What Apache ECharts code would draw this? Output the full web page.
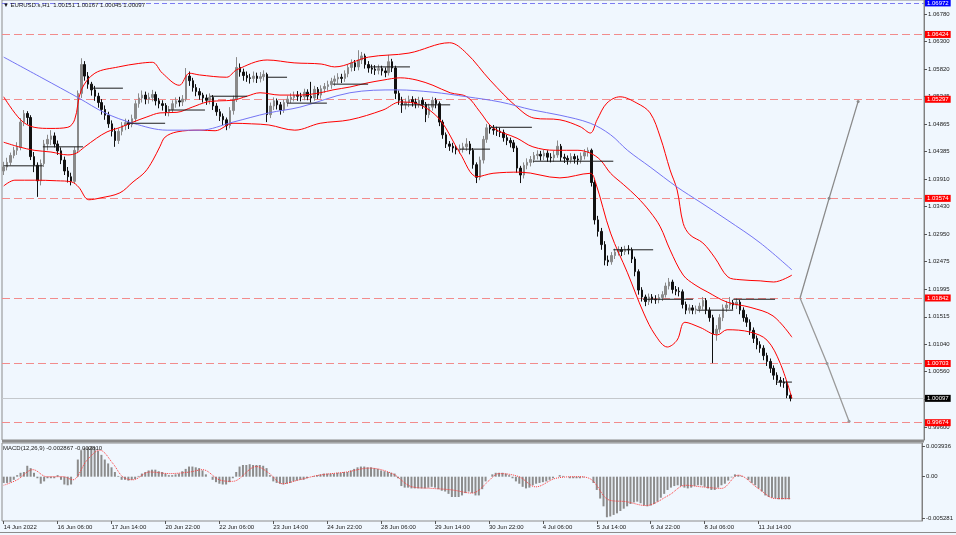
<!DOCTYPE html>
<html>
<head>
<meta charset="utf-8">
<script src="https://cdn.jsdelivr.net/npm/echarts@6.0.0/dist/echarts.min.js"></script>
<style>
html,body{margin:0;padding:0;background:#F0F7FE;}
#chart{width:956px;height:535px;}
</style>
</head>
<body>
<div id="chart"></div>
<script>
// ---------- DATA ----------
const symbolName = 'EURUSD.s,H1';
const xTickLabels = ['14 Jun 2022','16 Jun 06:00','17 Jun 14:00','20 Jun 22:00','22 Jun 06:00','23 Jun 14:00','24 Jun 22:00','28 Jun 06:00','29 Jun 14:00','30 Jun 22:00','4 Jul 06:00','5 Jul 14:00','6 Jul 22:00','8 Jul 06:00','11 Jul 14:00'];
const priceTicks = [1.06780,1.06300,1.05820,1.05345,1.04865,1.04385,1.03910,1.03430,1.02950,1.02475,1.01995,1.01515,1.01040,1.00560,1.00080,0.99600];
const macdTicks = [0.003936, 0, -0.005281];
const macdTickLabels = ['0.003936','0.00','-0.005281'];
const levelLines = [1.06424,1.05297,1.03574,1.01842,1.00703,0.99674];
const topLevel = 1.06972;
const macdLast = -0.002867;
const signalLast = -0.002810;

// [open, close, low, high]
const candles = [
[1.0405,1.0412,1.0398,1.0421],[1.0412,1.0420,1.0406,1.0428],[1.0420,1.0432,1.0415,1.0437],[1.0432,1.0441,1.0427,1.0447],[1.0441,1.0446,1.0433,1.0455],
[1.0446,1.0490,1.0441,1.0497],[1.0490,1.0505,1.0483,1.0511],[1.0505,1.0498,1.0486,1.0509],[1.0498,1.0430,1.0424,1.0502],[1.0430,1.0415,1.0403,1.0438],
[1.0415,1.0388,1.0360,1.0420],[1.0388,1.0418,1.0380,1.0425],[1.0418,1.0452,1.0412,1.0459],[1.0452,1.0460,1.0441,1.0468],[1.0460,1.0466,1.0450,1.0476],
[1.0466,1.0452,1.0446,1.0472],[1.0452,1.0440,1.0433,1.0458],[1.0440,1.0424,1.0417,1.0446],[1.0424,1.0405,1.0398,1.0430],[1.0405,1.0395,1.0385,1.0412],
[1.0395,1.0387,1.0380,1.0402],[1.0387,1.0441,1.0383,1.0447],[1.0441,1.0540,1.0436,1.0545],[1.0540,1.0590,1.0532,1.0601],[1.0590,1.0570,1.0562,1.0596],
[1.0570,1.0556,1.0548,1.0577],[1.0556,1.0546,1.0536,1.0560],[1.0546,1.0535,1.0527,1.0553],[1.0535,1.0524,1.0515,1.0541],[1.0524,1.0512,1.0503,1.0530],
[1.0512,1.0502,1.0494,1.0519],[1.0502,1.0487,1.0480,1.0508],[1.0487,1.0474,1.0465,1.0493],[1.0474,1.0458,1.0447,1.0480],[1.0458,1.0474,1.0452,1.0479],
[1.0474,1.0484,1.0467,1.0490],[1.0484,1.0489,1.0476,1.0496],[1.0489,1.0486,1.0478,1.0494],[1.0486,1.0496,1.0481,1.0503],[1.0496,1.0522,1.0490,1.0528],
[1.0522,1.0532,1.0515,1.0540],[1.0532,1.0537,1.0524,1.0545],[1.0537,1.0530,1.0521,1.0543],[1.0530,1.0533,1.0522,1.0541],[1.0533,1.0538,1.0526,1.0546],
[1.0538,1.0527,1.0519,1.0543],[1.0527,1.0522,1.0514,1.0532],[1.0522,1.0519,1.0510,1.0528],[1.0519,1.0507,1.0501,1.0523],[1.0507,1.0512,1.0500,1.0518],
[1.0512,1.0522,1.0506,1.0528],[1.0522,1.0527,1.0515,1.0533],[1.0527,1.0525,1.0517,1.0534],[1.0525,1.0530,1.0518,1.0537],[1.0530,1.0570,1.0526,1.0584],
[1.0570,1.0562,1.0553,1.0578],[1.0562,1.0550,1.0543,1.0567],[1.0550,1.0543,1.0535,1.0556],[1.0543,1.0537,1.0529,1.0549],[1.0537,1.0532,1.0524,1.0541],
[1.0532,1.0528,1.0520,1.0538],[1.0528,1.0533,1.0521,1.0540],[1.0533,1.0518,1.0511,1.0537],[1.0518,1.0508,1.0501,1.0523],[1.0508,1.0500,1.0492,1.0513],
[1.0500,1.0494,1.0485,1.0505],[1.0494,1.0484,1.0476,1.0498],[1.0484,1.0510,1.0479,1.0516],[1.0510,1.0530,1.0503,1.0536],[1.0530,1.0585,1.0525,1.0603],
[1.0585,1.0577,1.0569,1.0592],[1.0577,1.0571,1.0562,1.0583],[1.0571,1.0567,1.0560,1.0578],[1.0567,1.0566,1.0557,1.0574],[1.0566,1.0570,1.0559,1.0578],
[1.0570,1.0566,1.0558,1.0576],[1.0566,1.0569,1.0559,1.0577],[1.0569,1.0573,1.0562,1.0580],[1.0573,1.0503,1.0490,1.0576],[1.0503,1.0518,1.0497,1.0524],
[1.0518,1.0527,1.0511,1.0533],[1.0527,1.0520,1.0512,1.0531],[1.0520,1.0511,1.0503,1.0525],[1.0511,1.0524,1.0506,1.0529],[1.0524,1.0530,1.0517,1.0536],
[1.0530,1.0533,1.0523,1.0540],[1.0533,1.0537,1.0526,1.0543],[1.0537,1.0535,1.0527,1.0544],[1.0535,1.0534,1.0526,1.0541],[1.0534,1.0542,1.0528,1.0548],
[1.0542,1.0535,1.0528,1.0547],[1.0535,1.0532,1.0524,1.0560],[1.0532,1.0547,1.0527,1.0553],[1.0547,1.0537,1.0530,1.0551],[1.0537,1.0548,1.0531,1.0554],
[1.0548,1.0552,1.0541,1.0558],[1.0552,1.0555,1.0545,1.0562],[1.0555,1.0561,1.0548,1.0567],[1.0561,1.0565,1.0553,1.0571],[1.0565,1.0568,1.0557,1.0575],
[1.0568,1.0566,1.0558,1.0574],[1.0566,1.0574,1.0560,1.0580],[1.0574,1.0585,1.0568,1.0591],[1.0585,1.0593,1.0578,1.0599],[1.0593,1.0586,1.0579,1.0598],
[1.0586,1.0598,1.0580,1.0615],[1.0598,1.0605,1.0591,1.0612],[1.0605,1.0590,1.0583,1.0609],[1.0590,1.0584,1.0576,1.0596],[1.0584,1.0582,1.0574,1.0590],
[1.0582,1.0580,1.0572,1.0589],[1.0580,1.0583,1.0573,1.0590],[1.0583,1.0579,1.0571,1.0588],[1.0579,1.0576,1.0568,1.0585],[1.0576,1.0595,1.0571,1.0607],
[1.0595,1.0584,1.0577,1.0600],[1.0584,1.0540,1.0530,1.0588],[1.0540,1.0528,1.0520,1.0545],[1.0528,1.0520,1.0506,1.0534],[1.0520,1.0524,1.0512,1.0531],
[1.0524,1.0529,1.0516,1.0536],[1.0529,1.0525,1.0517,1.0535],[1.0525,1.0522,1.0514,1.0531],[1.0522,1.0528,1.0515,1.0534],[1.0528,1.0521,1.0513,1.0533],
[1.0521,1.0503,1.0490,1.0525],[1.0503,1.0516,1.0497,1.0522],[1.0516,1.0528,1.0510,1.0534],[1.0528,1.0522,1.0514,1.0532],[1.0522,1.0490,1.0483,1.0526],
[1.0490,1.0468,1.0461,1.0494],[1.0468,1.0452,1.0445,1.0472],[1.0452,1.0448,1.0440,1.0457],[1.0448,1.0445,1.0437,1.0454],[1.0445,1.0442,1.0434,1.0450],
[1.0442,1.0443,1.0435,1.0451],[1.0443,1.0447,1.0437,1.0454],[1.0447,1.0452,1.0440,1.0462],[1.0452,1.0441,1.0434,1.0457],[1.0441,1.0416,1.0409,1.0445],
[1.0416,1.0394,1.0384,1.0420],[1.0394,1.0424,1.0389,1.0430],[1.0424,1.0460,1.0418,1.0466],[1.0460,1.0480,1.0454,1.0487],[1.0480,1.0478,1.0470,1.0486],
[1.0478,1.0476,1.0468,1.0485],[1.0476,1.0474,1.0466,1.0482],[1.0474,1.0472,1.0464,1.0480],[1.0472,1.0463,1.0456,1.0477],[1.0463,1.0458,1.0450,1.0468],
[1.0458,1.0454,1.0446,1.0463],[1.0454,1.0445,1.0438,1.0459],[1.0445,1.0410,1.0402,1.0449],[1.0410,1.0398,1.0384,1.0414],[1.0398,1.0415,1.0392,1.0420],
[1.0415,1.0420,1.0408,1.0427],[1.0420,1.0425,1.0413,1.0431],[1.0425,1.0432,1.0419,1.0438],[1.0432,1.0434,1.0425,1.0441],[1.0434,1.0431,1.0423,1.0440],
[1.0431,1.0436,1.0424,1.0442],[1.0436,1.0429,1.0421,1.0441],[1.0429,1.0428,1.0420,1.0436],[1.0428,1.0433,1.0421,1.0440],[1.0433,1.0448,1.0428,1.0458],
[1.0448,1.0429,1.0422,1.0452],[1.0429,1.0427,1.0419,1.0435],[1.0427,1.0424,1.0416,1.0432],[1.0424,1.0430,1.0418,1.0436],[1.0430,1.0426,1.0418,1.0435],
[1.0426,1.0424,1.0416,1.0432],[1.0424,1.0431,1.0418,1.0437],[1.0431,1.0437,1.0425,1.0443],[1.0437,1.0441,1.0430,1.0446],[1.0441,1.0385,1.0378,1.0444],
[1.0385,1.0320,1.0312,1.0390],[1.0320,1.0300,1.0291,1.0327],[1.0300,1.0277,1.0268,1.0306],[1.0277,1.0250,1.0241,1.0283],[1.0250,1.0247,1.0240,1.0258],
[1.0247,1.0258,1.0242,1.0264],[1.0258,1.0264,1.0252,1.0270],[1.0264,1.0268,1.0258,1.0274],[1.0268,1.0265,1.0257,1.0273],[1.0265,1.0269,1.0259,1.0275],
[1.0269,1.0268,1.0260,1.0276],[1.0268,1.0252,1.0245,1.0272],[1.0252,1.0230,1.0222,1.0256],[1.0230,1.0198,1.0190,1.0234],[1.0198,1.0186,1.0178,1.0203],
[1.0186,1.0178,1.0170,1.0190],[1.0178,1.0186,1.0172,1.0192],[1.0186,1.0182,1.0175,1.0191],[1.0182,1.0181,1.0174,1.0189],[1.0181,1.0185,1.0175,1.0191],
[1.0185,1.0190,1.0179,1.0196],[1.0190,1.0205,1.0185,1.0211],[1.0205,1.0212,1.0199,1.0219],[1.0212,1.0199,1.0192,1.0216],[1.0199,1.0196,1.0189,1.0205],
[1.0196,1.0195,1.0187,1.0203],[1.0195,1.0173,1.0166,1.0199],[1.0173,1.0163,1.0156,1.0178],[1.0163,1.0167,1.0157,1.0173],[1.0167,1.0163,1.0156,1.0172],
[1.0163,1.0165,1.0156,1.0171],[1.0165,1.0170,1.0159,1.0176],[1.0170,1.0180,1.0164,1.0186],[1.0180,1.0163,1.0156,1.0184],[1.0163,1.0150,1.0143,1.0168],
[1.0150,1.0122,1.0071,1.0155],[1.0122,1.0130,1.0110,1.0137],[1.0130,1.0150,1.0124,1.0156],[1.0150,1.0167,1.0144,1.0173],[1.0167,1.0172,1.0160,1.0179],
[1.0172,1.0176,1.0165,1.0186],[1.0176,1.0172,1.0164,1.0181],[1.0172,1.0177,1.0165,1.0184],[1.0177,1.0163,1.0156,1.0181],[1.0163,1.0150,1.0143,1.0168],
[1.0150,1.0142,1.0134,1.0156],[1.0142,1.0128,1.0120,1.0147],[1.0128,1.0114,1.0106,1.0133],[1.0114,1.0103,1.0095,1.0119],[1.0103,1.0097,1.0089,1.0109],
[1.0097,1.0084,1.0076,1.0102],[1.0084,1.0074,1.0066,1.0089],[1.0074,1.0062,1.0054,1.0079],[1.0062,1.0050,1.0042,1.0067],[1.0050,1.0041,1.0033,1.0055],
[1.0041,1.0038,1.0030,1.0047],[1.0038,1.0036,1.0028,1.0045],[1.0036,1.0015,1.0010,1.0040],[1.00151,1.00097,1.00045,1.00167]
];

// Bollinger bands and moving average, sampled [bar index, price]
const bbUpper = [[0,1.0534],[5,1.0494],[9,1.0481],[14,1.0479],[19,1.0481],[21,1.0494],[23,1.0546],[27,1.0575],[34,1.0586],[40,1.0592],[44,1.0594],[47,1.0575],[52,1.0554],[55,1.0575],[58,1.0572],[66,1.0568],[69,1.0581],[78,1.0598],[86,1.0593],[94,1.0591],[98,1.0586],[108,1.0603],[120,1.0610],[132,1.0628],[137,1.0610],[144,1.0563],[152,1.0516],[157,1.0497],[164.7,1.0494],[170.7,1.0482],[173.7,1.0471],[175.7,1.0494],[178.6,1.0523],[182.5,1.0534],[187.5,1.0523],[191.4,1.0506],[194.4,1.0464],[197.3,1.0407],[199.4,1.0372],[201.2,1.0314],[203.2,1.0294],[207,1.0280],[210.6,1.0254],[214.4,1.0221],[218,1.0216],[224,1.0214],[228,1.0212],[233.4,1.0224]];
const bbMiddle = [[0,1.0455],[4.5,1.0447],[9,1.0441],[14,1.0438],[19,1.0433],[21.5,1.0436],[24,1.0447],[27.5,1.0462],[30.6,1.0473],[34.6,1.0481],[38.3,1.0490],[42.4,1.0499],[46.3,1.0506],[51.3,1.0507],[55.8,1.0516],[60.2,1.0525],[64,1.0527],[67.9,1.0528],[72,1.0535],[75.9,1.0541],[81.8,1.0537],[87.7,1.0537],[93.7,1.0541],[97.5,1.0546],[102.5,1.0551],[107.6,1.0558],[112.3,1.0563],[117.4,1.0567],[122.4,1.0563],[127.1,1.0554],[132.2,1.0541],[137.2,1.0534],[141,1.0508],[144.9,1.0480],[152,1.0462],[156.7,1.0447],[163.3,1.0441],[170,1.0441],[173.7,1.0436],[176.7,1.0424],[179.7,1.0401],[183.6,1.0381],[187.5,1.0360],[191.4,1.0334],[194.4,1.0308],[197.3,1.0268],[201.2,1.0224],[204.7,1.0207],[208.3,1.0195],[214.2,1.0177],[221,1.0168],[227.8,1.0153],[233.4,1.0116]];
const bbLower = [[0,1.0379],[3.3,1.0389],[9.2,1.0389],[15.7,1.0388],[20.1,1.0386],[22.2,1.0377],[25.2,1.0355],[28.5,1.0358],[34.4,1.0367],[38.3,1.0386],[41.8,1.0403],[44.2,1.0424],[46.3,1.0448],[47.8,1.0464],[51.3,1.0473],[58.1,1.0476],[62.6,1.0475],[67.9,1.0488],[73.4,1.0487],[78.5,1.0485],[86.2,1.0476],[93.7,1.0488],[102.5,1.0494],[112.3,1.0511],[117.4,1.0525],[123.3,1.0520],[129.2,1.0494],[135.1,1.0436],[140.2,1.0395],[144.9,1.0401],[152.9,1.0403],[164.7,1.0393],[173.7,1.0401],[175.2,1.0386],[179.7,1.0297],[184.7,1.0228],[189.5,1.0158],[192.9,1.0120],[196.5,1.0099],[199.4,1.0111],[201.7,1.0142],[206.2,1.0133],[211.3,1.0120],[214.2,1.0129],[221,1.0125],[226,1.0111],[229.9,1.0071],[233.4,1.0010]];
const maLine = [[0,1.0603],[11.3,1.0567],[22.2,1.0532],[30,1.0506],[38.3,1.0488],[48.4,1.0476],[58.1,1.0476],[67.9,1.0490],[78.5,1.0506],[87.7,1.0516],[102.5,1.0541],[116.5,1.0546],[127.1,1.0542],[137.2,1.0534],[147,1.0525],[156.7,1.0511],[164.7,1.0502],[173.7,1.0488],[179.7,1.0468],[184.7,1.0441],[191.4,1.0412],[199.4,1.0377],[206.2,1.0351],[214.2,1.0320],[224,1.0280],[233.4,1.0233]];

// short black horizontal segments: [from index, to index, price]
const hSegments = [[0,11.6,1.0414],[11.6,23.5,1.0447],[25.6,35.3,1.0549],[36.8,47.8,1.0488],[48.7,59.6,1.0511],[61.1,72.1,1.0535],[78,83.9,1.0568],[83.9,95.7,1.0523],[97.5,107.9,1.0556],[108.5,120.3,1.0586],[117.4,132.2,1.0520],[135.1,144,1.0443],[144,156.4,1.0481],[156.7,180.5,1.0422],[180.5,192.3,1.0268],[189.3,204.1,1.0182],[205.3,216,1.0163],[216,228.4,1.0182],[229,233.4,1.0038]];

// projection arrows: [index, price]
const arrowUp = [[235.8,1.01842],[244.4,1.03574],[253.0,1.0526]];
const arrowDown = [[235.8,1.01842],[243.8,1.00703],[250.3,0.9970]];

// MACD histogram per bar and signal samples
const macdHist = [
-0.0008,-0.0008,-0.0007,-0.0004,0.0002,0.0005,0.0006,0.0014,0.0011,0.0005,
-0.0002,-0.0009,-0.0006,-0.0002,-0.0002,-0.0002,0.0002,-0.0004,-0.0010,-0.0011,
-0.0010,0.0000,0.0022,0.0034,0.0037,0.0038,0.0039,0.0038,0.0033,0.0028,
0.0022,0.0017,0.0012,0.0006,0.0001,-0.0004,-0.0004,-0.0005,-0.0004,-0.0003,
0.0001,0.0004,0.0006,0.0008,0.0009,0.0009,0.0007,0.0006,0.0004,0.0002,
0.0002,0.0003,0.0004,0.0007,0.0010,0.0013,0.0013,0.0012,0.0011,0.0008,
0.0003,0.0000,-0.0004,-0.0007,-0.0009,-0.0010,-0.0010,-0.0007,-0.0002,0.0006,
0.0013,0.0015,0.0015,0.0016,0.0015,0.0015,0.0015,0.0014,0.0011,0.0002,
-0.0006,-0.0008,-0.0009,-0.0010,-0.0009,-0.0008,-0.0006,-0.0005,-0.0004,-0.0004,
-0.0002,0.0000,0.0001,0.0002,0.0003,0.0004,0.0004,0.0004,0.0004,0.0005,
0.0005,0.0006,0.0006,0.0008,0.0010,0.0012,0.0013,0.0013,0.0012,0.0012,
0.0011,0.0010,0.0008,0.0007,0.0006,0.0005,0.0004,-0.0002,-0.0012,-0.0014,
-0.0014,-0.0015,-0.0015,-0.0015,-0.0015,-0.0015,-0.0014,-0.0013,-0.0014,-0.0016,
-0.0018,-0.0019,-0.0022,-0.0026,-0.0026,-0.0026,-0.0024,-0.0021,-0.0019,-0.0021,
-0.0024,-0.0024,-0.0016,-0.0006,0.0000,0.0003,0.0005,0.0005,0.0005,0.0004,
0.0002,-0.0002,-0.0006,-0.0009,-0.0013,-0.0015,-0.0014,-0.0011,-0.0009,-0.0008,
-0.0007,-0.0006,-0.0004,-0.0002,0.0000,0.0002,0.0001,0.0000,-0.0002,-0.0002,
-0.0002,-0.0002,-0.0001,0.0000,0.0000,-0.0008,-0.0017,-0.0028,-0.0038,-0.0052,
-0.0051,-0.0049,-0.0047,-0.0044,-0.0041,-0.0038,-0.0035,-0.0033,-0.0032,-0.0034,
-0.0037,-0.0038,-0.0037,-0.0035,-0.0032,-0.0027,-0.0022,-0.0017,-0.0014,-0.0012,
-0.0011,-0.0012,-0.0014,-0.0015,-0.0014,-0.0012,-0.0011,-0.0011,-0.0013,-0.0015,
-0.0017,-0.0017,-0.0014,-0.0011,-0.0009,-0.0005,-0.0001,0.0003,0.0002,0.0001,
0.0000,-0.0004,-0.0008,-0.0011,-0.0015,-0.0019,-0.0024,-0.0026,-0.0027,-0.0028,
-0.0029,-0.0029,-0.0029,-0.0029
];
const macdSignal = [[0,-0.0011],[4,-0.0004],[8.7,0.0009],[12.8,0],[17.6,0],[20.5,-0.0004],[24.7,0.0021],[28.5,0.0034],[32.4,0.0017],[35.3,0],[38.3,-0.0004],[43.3,0.0006],[49.2,0.0004],[55.2,0.0006],[59,0.0009],[64,-0.0004],[67.9,-0.0006],[75,0.0013],[78.9,0.0004],[82.7,-0.0009],[87.7,-0.0004],[93.7,0.0002],[101.7,0.0006],[108.5,0.0011],[115.3,0.0004],[121.2,-0.0013],[127.1,-0.0015],[133.1,-0.0017],[139,-0.0021],[141.1,-0.0017],[144,-0.0005],[147,0.0004],[152.9,0],[157.9,-0.0013],[163.9,-0.0002],[170.7,0],[174.5,-0.0004],[179.7,-0.0030],[184.7,-0.0032],[190.5,-0.0037],[197.3,-0.0024],[202.3,-0.0011],[207,-0.0013],[213,-0.0015],[218,0.0002],[223.9,-0.0015],[229,-0.0028],[233.4,-0.0028]];

// ---------- BUILD ----------
const N_CAT = 273;
const categories = [];
for (let i = 0; i < N_CAT; i++) {
  categories.push(i % 16 === 0 && xTickLabels[i / 16] ? xTickLabels[i / 16] : '');
}
const hasLabel = (i) => categories[i] !== '';
const last = candles[candles.length - 1];
const headerText = '\u25BC ' + symbolName + '  ' + [last[0], last[3], last[2], last[1]].map(v => v.toFixed(5)).join(' ');
const FONT = 'Liberation Sans, Arial, sans-serif';
const smallText = {fontSize: 6, fontFamily: FONT, color: '#1a1a1a'};

function boxLabel(bg) {
  return {show: true, position: 'end', distance: 1, formatter: p => Number(p.value).toFixed(5),
    backgroundColor: bg, color: '#fff', fontSize: 6, fontFamily: FONT, lineHeight: 7, padding: [0, 2]};
}
const markData = levelLines.map(v => ({yAxis: v, lineStyle: {color: '#F28C8C', type: [8, 4], width: 1.2}, label: boxLabel('#FF0000')}));
markData.push({yAxis: topLevel, lineStyle: {color: '#7C7CF2', type: [5, 3], width: 1.2}, label: boxLabel('#0000FF')});
markData.push({yAxis: last[1], lineStyle: {color: '#C4C8CC', type: 'solid', width: 1}, label: boxLabel('#000000')});

const series = [];
series.push({
  type: 'candlestick', xAxisIndex: 0, yAxisIndex: 0, data: candles, barWidth: 2, z: 3,
  itemStyle: {color: '#8a8a8a', color0: '#111111', borderColor: '#8a8a8a', borderColor0: '#111111', borderWidth: 1},
  markLine: {silent: true, symbol: ['none', 'none'], precision: 5, animation: false, data: markData, z: 1}
});
function lineS(data, color, w, extra) {
  return Object.assign({type: 'line', xAxisIndex: 1, yAxisIndex: 0, data: data, showSymbol: false, symbol: 'none',
    smooth: 0.35, lineStyle: {color: color, width: w}, silent: true, z: 4}, extra || {});
}
series.push(lineS(bbUpper, '#FF0000', 1));
series.push(lineS(bbMiddle, '#FF0000', 1));
series.push(lineS(bbLower, '#FF0000', 1));
series.push(lineS(maLine, '#7474F4', 1));
hSegments.forEach(s => {
  series.push(lineS([[s[0], s[2]], [s[1], s[2]]], '#1c1c1c', 1, {smooth: false, z: 5}));
});
function arrowSeries(pts, color) {
  return {type: 'line', xAxisIndex: 1, yAxisIndex: 0, silent: true, z: 5, smooth: false,
    lineStyle: {color: color, width: 1.3},
    itemStyle: {color: color},
    data: pts.map((p, i) => ({value: p, symbol: i === 0 ? 'none' : 'circle', symbolSize: i === 0 ? 0 : 3}))};
}
series.push(arrowSeries(arrowUp, '#8a8a8a'));
series.push(arrowSeries(arrowDown, '#9a9a9a'));

series.push({type: 'bar', xAxisIndex: 2, yAxisIndex: 1, data: macdHist, barWidth: 2, silent: true,
  itemStyle: {color: '#8c8c8c'}});
series.push({type: 'line', xAxisIndex: 3, yAxisIndex: 1, data: macdSignal, showSymbol: false, symbol: 'none', smooth: 0.35, silent: true,
  lineStyle: {color: '#FF3b3b', width: 1, type: 'dotted'}, z: 5});

const option = {
  animation: false,
  backgroundColor: '#F0F7FE',
  textStyle: {fontFamily: FONT},
  title: [
    {text: headerText, left: 3, top: 2, padding: 0, textStyle: Object.assign({fontWeight: 'normal', color: '#000'}, smallText)},
    {text: 'MACD(12,26,9) ' + macdLast.toFixed(6) + ' ' + signalLast.toFixed(6), left: 3, top: 445, padding: 0,
      textStyle: Object.assign({fontWeight: 'normal', color: '#000'}, smallText)}
  ],
  grid: [
    {left: 2, right: 32, top: 0, height: 440, show: true, borderColor: '#8c8c8c', borderWidth: 1, backgroundColor: 'transparent'},
    {left: 2, right: 32, top: 443, height: 78, show: true, borderColor: '#8c8c8c', borderWidth: 1, backgroundColor: 'transparent'}
  ],
  xAxis: [
    {type: 'category', gridIndex: 0, data: categories, boundaryGap: true, axisLine: {show: false, onZero: false}, axisTick: {show: false}, axisLabel: {show: false}, splitLine: {show: false}},
    {type: 'value', gridIndex: 0, min: -0.5, max: N_CAT - 0.5, show: false, axisLine: {onZero: false}},
    {type: 'category', gridIndex: 1, data: categories, boundaryGap: true, position: 'bottom', axisLine: {show: false, onZero: false},
      axisTick: {show: true, alignWithLabel: true, interval: (i) => hasLabel(i), length: 3, lineStyle: {color: '#555'}},
      axisLabel: Object.assign({show: true, interval: (i) => hasLabel(i), align: 'left', margin: 3}, smallText),
      splitLine: {show: false}},
    {type: 'value', gridIndex: 1, min: -0.5, max: N_CAT - 0.5, show: false, axisLine: {onZero: false}}
  ],
  yAxis: [
    {type: 'value', gridIndex: 0, position: 'right', min: 0.99373, max: 1.07023, splitLine: {show: false},
      axisLine: {show: true, onZero: false, lineStyle: {color: '#808080'}},
      axisTick: {show: true, length: 3, customValues: priceTicks, lineStyle: {color: '#555'}},
      axisLabel: Object.assign({customValues: priceTicks, formatter: v => Number(v).toFixed(5), margin: 4}, smallText)},
    {type: 'value', gridIndex: 1, position: 'right', min: -0.00568, max: 0.00432, splitLine: {show: false},
      axisLine: {show: true, onZero: false, lineStyle: {color: '#808080'}},
      axisTick: {show: true, length: 3, customValues: macdTicks, lineStyle: {color: '#555'}},
      axisLabel: Object.assign({customValues: macdTicks, margin: 4, formatter: v => {
        for (let k = 0; k < macdTicks.length; k++) { if (Math.abs(macdTicks[k] - v) < 1e-9) return macdTickLabels[k]; }
        return '';
      }}, smallText)}
  ],
  graphic: [
    {type: 'rect', shape: {x: 2, y: 440, width: 922, height: 2.5}, style: {fill: '#8c8c8c'}, silent: true},
    {type: 'line', shape: {x1: 0, y1: 532.5, x2: 956, y2: 532.5}, style: {stroke: '#8c8c8c', lineWidth: 1}, silent: true}
  ],
  series: series
};

const chart = echarts.init(document.getElementById('chart'), null, {renderer: 'canvas'});
chart.setOption(option);
</script>
</body>
</html>
